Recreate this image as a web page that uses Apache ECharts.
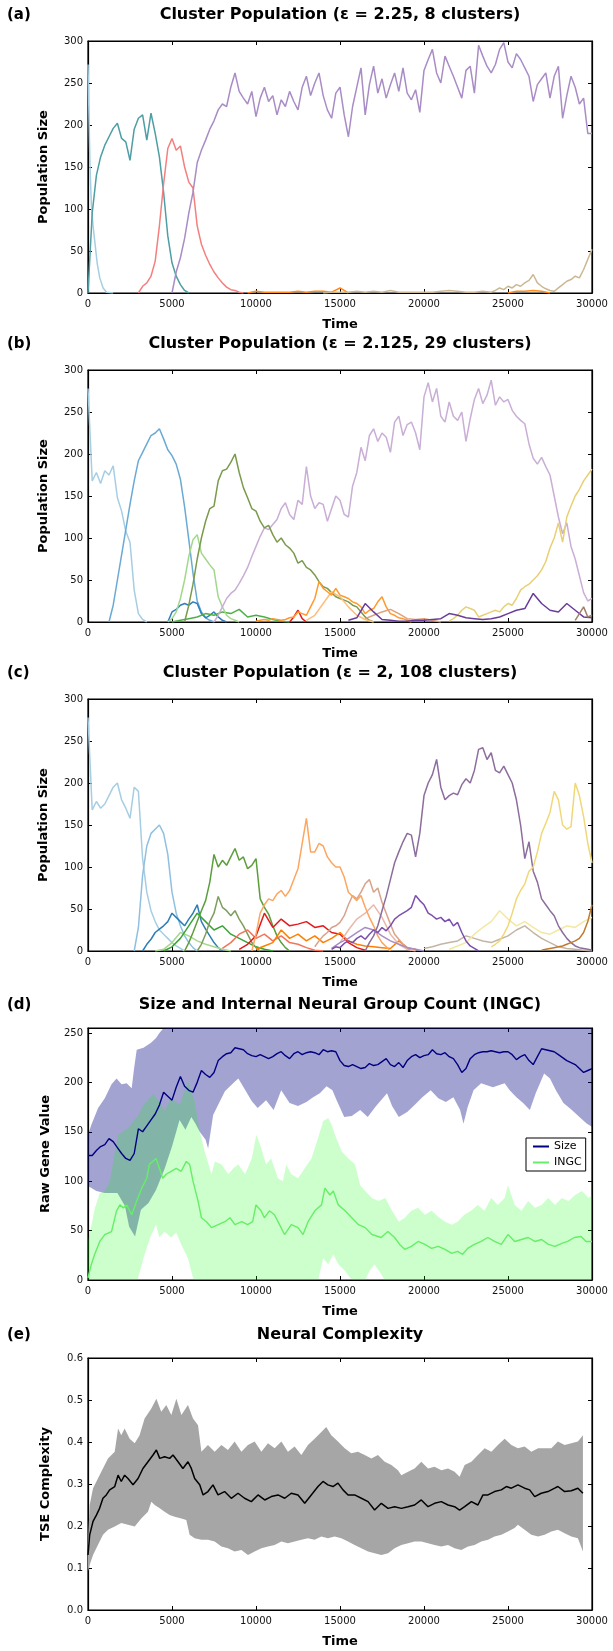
<!DOCTYPE html>
<html>
<head>
<meta charset="utf-8">
<script src="https://cdn.jsdelivr.net/npm/echarts@6/dist/echarts.min.js"></script>
<style>
    html, body {margin: 0; padding: 0; background: #fff;}
    #main {width: 613px; height: 1651px;}
</style>
</head>
<body>
<div id="main"></div>
<script>
// ---- shared axis values ----
var X_TICKS = [0, 5000, 10000, 15000, 20000, 25000, 30000];
var STEP = 250;

// ---- (a) eps = 2.25 ----
var A_LIGHTBLUE = [[0, 272], [60, 210], [120, 150], [200, 105], [300, 80], [400, 62], [550, 35], [700, 18], [900, 6], [1100, 1], [1500, 0]];
var A_TEAL = [0, 95, 140, 162, 176, 186, 196, 202, 184, 180, 158, 195, 208, 212, 182, 214, 190, 162, 120, 68, 36, 20, 10, 3, 0];
var A_RED = [0, 8, 12, 20, 38, 80, 130, 172, 184, 170, 175, 150, 132, 125, 80, 58, 45, 34, 25, 18, 12, 7, 4, 3, 1, 0];
var A_PURPLE = [0, 25, 42, 65, 95, 120, 155, 170, 182, 195,
    205, 218, 225, 222, 245, 262, 240, 232, 225, 240,
    210, 232, 245, 228, 235, 212, 230, 222, 240, 228,
    218, 245, 258, 235, 250, 262, 235, 218, 208, 238,
    245, 212, 186, 222, 245, 268, 212, 248, 270, 238,
    255, 232, 248, 262, 240, 268, 238, 230, 242, 215,
    265, 278, 290, 262, 250, 282, 270, 258, 245, 232,
    265, 270, 238, 295, 282, 270, 262, 272, 290, 298,
    275, 268, 285, 278, 268, 258, 228, 248, 255, 262,
    232, 258, 270, 208, 235, 258, 245, 225, 232, 190, 190];
var A_TAN_LOW = [0, 1, 1, 1, 2, 1, 2, 1, 3, 1, 1, 1, 1, 1, 2, 3, 2, 1, 1, 2];
var A_TAN = [1, 3, 6, 4, 8, 6, 10, 8, 12, 15, 22, 12, 8, 5, 3, 2, 6, 10, 14, 16, 20, 18, 28, 40, 52];
var A_ORANGE = [0, 2, 1, 1, 1, 1, 2, 1, 2, 2, 1, 6, 0];
var A_ORANGE_LATE = [0, 2, 2, 3, 2, 0];

// ---- (b) eps = 2.125 ----
var B_LIGHTBLUE = [278, 168, 178, 165, 180, 175, 186, 148, 132, 108, 95, 38, 10, 3, 0];
var B_BLUE = [0, 20, 50, 80, 110, 140, 168, 192, 202, 212, 222, 225, 230, 218, 205, 198, 188, 170, 137, 98, 58, 25, 12, 5, 2, 0];
var B_LTGREEN = [0, 4, 12, 28, 50, 78, 98, 104, 82, 75, 68, 62, 30, 18, 8, 4, 2, 0];
var B_OLIVE = [0, 20, 45, 75, 100, 120, 135, 138, 168, 180,
    182, 190, 200, 178, 160, 148, 135, 132, 120, 112,
    115, 104, 95, 100, 92, 88, 82, 70, 73, 65,
    62, 56, 48, 42, 40, 35, 30, 28, 26, 24,
    20, 18, 12, 6, 2, 0];
var B_LILAC = [0, 8, 18, 28, 34, 38, 46, 55, 65, 78,
    90, 102, 112, 110, 116, 122, 135, 142, 128, 122,
    145, 140, 185, 150, 135, 142, 140, 120, 135, 150,
    145, 128, 125, 162, 178, 208, 192, 222, 230, 215,
    225, 220, 202, 238, 245, 222, 235, 238, 225, 205,
    268, 285, 262, 278, 245, 238, 262, 245, 240, 250,
    215, 242, 265, 278, 260, 270, 288, 258, 268, 262,
    265, 252, 245, 240, 236, 212, 195, 188, 196, 185,
    175, 150, 125, 105, 118, 90, 75, 55, 35, 25, 28];
var B_ORANGE = [1, 2, 3, 2, 4, 3, 2, 3, 5, 6, 12, 10, 8, 18, 28, 48, 40, 36, 32, 40,
    32, 30, 28, 24, 22, 18, 10, 14, 16, 24, 30, 18, 10, 8, 5, 4, 2, 0];
var B_LTORANGE = [2, 8, 22, 36, 30, 18, 8, 3, 0];
var B_SALMON = [4, 8, 12, 15, 10, 4, 3, 4, 2, 0];
var B_DKPURPLE = [2, 5, 22, 12, 3, 2, 1, 1, 2, 2, 3, 4, 10, 8, 5, 4, 3, 4, 6, 10, 14, 16, 34, 22, 14, 12, 22, 14, 6, 5];
var B_YELLOW = [1, 4, 8, 14, 18, 16, 14, 6, 8, 10, 12, 14, 12, 18, 22, 20, 28, 38, 42, 45,
    50, 55, 62, 72, 88, 100, 118, 95, 125, 138, 150, 158, 168, 175, 182];
var B_GREEN = [0, 2, 4, 6, 10, 8, 12, 10, 15, 6, 8, 6, 3, 1, 0];
var B_MIDBLUE = [0, 12, 15, 20, 22, 20, 24, 22, 10, 5, 8, 12, 6, 2, 0];
var B_RED = [0, 6, 14, 4, 0];
var B_BROWN = [2, 10, 18, 6, 8];

// ---- (c) eps = 2 ----
var C_LIGHTBLUE = [278, 168, 178, 170, 175, 185, 195, 200, 180, 170, 158, 195, 190, 110, 70, 48, 35, 25, 20, 15, 10, 6, 3, 0];
var C_LBLUE2 = [0, 28, 90, 125, 140, 145, 150, 140, 115, 70, 45, 30, 18, 10, 4, 0];
var C_DKBLUE = [0, 8, 14, 22, 26, 30, 35, 45, 40, 35, 30, 38, 45, 55, 35, 26, 18, 10, 4, 0];
var C_GREEN = [0, 10, 22, 35, 48, 60, 82, 115, 100, 108, 102, 112, 122, 108, 112, 98, 102, 110, 62, 52, 44, 30, 18, 10, 4, 0];
var C_OLIVE = [0, 8, 20, 35, 45, 65, 52, 48, 42, 48, 38, 30, 20, 10, 4, 0];
var C_BRGREEN = [0, 5, 15, 30, 45, 35, 25, 30, 20, 15, 10, 5, 2, 0];
var C_LTGREEN = [0, 2, 10, 22, 18, 12, 8, 5, 2, 0];
var C_LTORANGE = [0, 20, 45, 55, 62, 60, 68, 72, 65, 72, 85, 98, 128, 158, 118, 118, 128, 125, 112, 105,
    100, 100, 88, 70, 65, 60, 66, 52, 40, 30, 18, 10, 5, 0];
var C_SALMON = [5, 12, 18, 22, 28, 30, 34, 42, 55, 66, 62, 70, 80, 85, 70, 75, 58, 45, 32, 20, 14, 8, 4, 0];
var C_PINK = [10, 25, 38, 45, 55, 40, 20, 8, 2, 0];
var C_MAUVE = [0, 10, 18, 30, 48, 65, 85, 105, 118, 130,
    140, 138, 112, 140, 185, 200, 210, 228, 195, 180,
    185, 188, 186, 198, 205, 200, 215, 240, 242, 228,
    236, 215, 212, 220, 210, 200, 180, 150, 110, 130,
    95, 82, 62, 55, 48, 42, 30, 22, 15, 10, 6, 4, 3, 2, 1];
var C_PURPLE = [2, 5, 4, 9, 12, 10, 15, 18, 14, 20, 25, 22, 28, 24, 30, 38, 42, 45, 48, 52,
    66, 60, 55, 45, 42, 38, 40, 35, 38, 30, 34, 22, 12, 6, 3, 0];
var C_PURPLE2 = [3, 10, 15, 22, 28, 25, 18, 12, 8, 4, 2, 0];
var C_YELLOW = [5, 8, 12, 20, 30, 45, 62, 72, 80, 95, 100, 118, 140, 152, 165, 190, 180, 150, 145, 148, 200, 185, 160, 128, 105];
var C_LTYELLOW = [2, 6, 10, 20, 28, 35, 48, 38, 30, 35, 28, 22, 20, 25, 30, 28, 35, 40];
var C_TAN = [3, 5, 8, 10, 12, 18, 15, 12, 10, 14, 18, 25, 30, 22, 15, 10, 5, 3, 2, 1, 0];
var C_BROWN = [1, 2, 3, 4, 5, 6, 8, 10, 12, 15, 22, 35, 55];
var C_RED = [2, 8, 18, 45, 28, 38, 30, 32, 35, 28, 30, 22, 20, 10, 4, 1];
var C_SALMONRED = [3, 10, 20, 25, 15, 20, 12, 18, 10, 8, 4, 1, 0];
var C_DKORANGE = [2, 6, 10, 25, 15, 20, 12, 18, 10, 15, 22, 12, 8, 6, 5, 4, 3, 12, 4, 2];

// ---- (d) size and INGC ----
var D_SIZE = [126, 126, 131, 135, 137, 143, 140, 134, 128, 123,
    121, 128, 153, 150, 156, 162, 168, 177, 190, 186,
    182, 195, 206, 196, 192, 190, 200, 212, 208, 205,
    210, 222, 226, 229, 230, 235, 234, 233, 229, 227,
    226, 228, 226, 224, 226, 229, 231, 227, 224, 229,
    231, 228, 230, 231, 230, 228, 233, 231, 232, 231,
    222, 217, 216, 218, 216, 214, 215, 219, 217, 218,
    221, 224, 218, 216, 220, 215, 222, 226, 228, 225,
    227, 228, 233, 229, 228, 230, 226, 224, 218, 210,
    214, 224, 228, 230, 231, 231, 232, 231, 230, 231,
    231, 228, 223, 226, 228, 222, 218, 226, 234, 233,
    232, 231, 228, 225, 222, 220, 218, 214, 210, 212, 214];
var D_SIZE_UP = [[0, 147], [200, 157], [600, 174], [1000, 184], [1400, 198], [1700, 204], [2000, 198], [2300, 199],
    [2600, 194], [2750, 215], [2900, 233], [3300, 235], [3750, 240], [4050, 245], [4250, 250], [4450, 254],
    [4700, 262], [30000, 262]];
var D_SIZE_LO = [[0, 95], [500, 90], [1000, 88], [1750, 88], [2200, 75], [2450, 54], [2800, 44], [3150, 71],
    [3600, 78], [4050, 91], [4550, 112], [5000, 135], [5450, 162], [5800, 152], [6150, 165], [6400, 158],
    [6650, 150], [7000, 142], [7150, 133], [7450, 167], [7800, 179], [8150, 191], [8700, 200], [8950, 204],
    [9400, 191], [9750, 181], [10100, 174], [10600, 182], [11050, 172], [11500, 192], [12000, 179], [12500, 176],
    [13000, 180], [13400, 185], [13800, 189], [14200, 196], [14550, 192], [14800, 182], [15250, 165],
    [15700, 166], [16200, 172], [16650, 165], [17100, 175], [17800, 189], [18100, 176], [18500, 165],
    [19000, 170], [19500, 178], [19900, 185], [20400, 192], [20850, 184], [21300, 180], [21750, 185],
    [22150, 172], [22350, 158], [22600, 175], [22950, 192], [23400, 199], [24100, 195], [24800, 199],
    [25100, 192], [25500, 185], [25900, 179], [26300, 172], [26650, 189], [27150, 209], [27500, 204],
    [27850, 192], [28300, 179], [28800, 172], [29250, 165], [29700, 158], [30000, 155]];
var D_INGC = [[0, 2], [200, 16], [400, 26], [700, 39], [1000, 46], [1400, 49], [1700, 70], [1900, 76], [2100, 73],
    [2300, 76], [2600, 66], [2900, 80], [3200, 93], [3500, 103], [3650, 117], [3850, 120], [4050, 123], [4250, 113],
    [4450, 103], [4650, 107], [4950, 110], [5250, 113], [5550, 110], [5850, 120], [6050, 117], [6250, 100], [6550, 80],
    [6750, 63], [7050, 59], [7350, 53], [7750, 56], [8150, 59], [8450, 63], [8750, 56], [9150, 59], [9500, 56],
    [9800, 59], [10000, 76], [10300, 70], [10500, 63], [10800, 70], [11100, 66], [11400, 56], [11700, 46],
    [12100, 56], [12500, 53], [12800, 46], [13100, 59], [13500, 70], [13900, 76], [14100, 93], [14400, 86],
    [14600, 90], [14900, 76], [15300, 70], [15700, 63], [16100, 56], [16500, 53], [16900, 46], [17450, 43],
    [17850, 49], [18250, 43], [18550, 36], [18850, 31], [19250, 34], [19650, 39], [20050, 36], [20450, 32],
    [20850, 34], [21250, 31], [21650, 27], [22000, 29], [22300, 26], [22600, 32], [23000, 36], [23400, 39],
    [23800, 43], [24200, 39], [24600, 36], [25000, 46], [25400, 39], [25800, 41], [26200, 43], [26600, 39],
    [27000, 41], [27400, 36], [27800, 34], [28200, 37], [28550, 39], [28950, 43], [29350, 44], [29650, 39], [30000, 39]];
var D_INGC_UP = [[0, 40], [200, 55], [400, 72], [700, 88], [1000, 90], [1300, 100], [1600, 130], [1800, 147],
    [2400, 154], [3000, 167], [3300, 177], [3850, 188], [4250, 181], [4550, 171], [4950, 184], [5450, 177],
    [5750, 191], [5950, 201], [6350, 181], [6650, 150], [6950, 130], [7350, 107], [7550, 120], [7950, 117],
    [8350, 107], [8650, 113], [8950, 117], [9350, 107], [9750, 123], [10020, 147], [10300, 134], [10600, 117],
    [10900, 123], [11300, 103], [11600, 100], [11800, 117], [12100, 107], [12500, 103], [12900, 113], [13300, 123],
    [13700, 144], [14000, 161], [14300, 164], [14500, 157], [14700, 147], [15100, 130], [15500, 123], [15900, 117],
    [16200, 96], [16500, 90], [16900, 83], [17300, 80], [17700, 83], [18100, 70], [18500, 59], [18850, 63],
    [19250, 70], [19650, 73], [20050, 66], [20450, 70], [20850, 64], [21250, 59], [21650, 56], [22000, 59],
    [22400, 66], [22800, 70], [23200, 76], [23600, 70], [24000, 83], [24400, 76], [24800, 83], [25000, 96],
    [25400, 76], [25800, 70], [26200, 80], [26600, 73], [27000, 76], [27400, 83], [27800, 76], [28200, 83],
    [28600, 80], [29000, 86], [29400, 90], [29800, 83], [30000, 86]];
var D_INGC_LO = [[0, 0], [2950, 0], [3300, 22], [3700, 43], [4050, 56], [4250, 43], [4550, 49], [4950, 43],
    [5250, 48], [5550, 36], [5950, 22], [6250, 2], [6350, 0], [13700, 0], [14000, 22], [14300, 16], [14600, 26],
    [14900, 16], [15300, 9], [15700, 0], [16500, 0], [16750, 9], [17050, 16], [17450, 6], [17650, 0], [30000, 0]];

// ---- (e) TSE complexity ----
var E_TSE = [[0, 0.131], [100, 0.179], [300, 0.211], [500, 0.226], [690, 0.242], [890, 0.266], [1090, 0.274],
    [1290, 0.286], [1590, 0.294], [1790, 0.321], [1980, 0.306], [2180, 0.321], [2380, 0.313], [2680, 0.298],
    [2980, 0.313], [3270, 0.337], [3570, 0.353], [3870, 0.369], [4070, 0.381], [4270, 0.361], [4560, 0.365],
    [4860, 0.361], [5060, 0.369], [5360, 0.353], [5650, 0.337], [5950, 0.353], [6150, 0.337], [6350, 0.313],
    [6650, 0.298], [6850, 0.274], [7140, 0.282], [7440, 0.298], [7740, 0.274], [8130, 0.282], [8530, 0.266],
    [8930, 0.278], [9320, 0.266], [9720, 0.258], [10120, 0.274], [10520, 0.262], [10910, 0.270], [11310, 0.274],
    [11710, 0.266], [12100, 0.278], [12500, 0.274], [12900, 0.254], [13290, 0.274], [13690, 0.294], [13990, 0.306],
    [14280, 0.298], [14580, 0.294], [14880, 0.302], [15180, 0.286], [15480, 0.274], [15870, 0.274], [16270, 0.266],
    [16670, 0.258], [17060, 0.238], [17460, 0.254], [17860, 0.242], [18250, 0.246], [18650, 0.242], [19050, 0.246],
    [19440, 0.250], [19840, 0.262], [20240, 0.246], [20630, 0.254], [21030, 0.258], [21430, 0.250], [21820, 0.246],
    [22120, 0.238], [22420, 0.246], [22820, 0.258], [23210, 0.250], [23510, 0.274], [23810, 0.274], [24200, 0.282],
    [24600, 0.286], [24900, 0.294], [25200, 0.290], [25590, 0.298], [25990, 0.290], [26290, 0.286], [26590, 0.270],
    [26980, 0.278], [27380, 0.282], [27780, 0.290], [27970, 0.294], [28370, 0.282], [28770, 0.284], [29160, 0.290],
    [29460, 0.278]];
var E_UP = [[0, 0.163], [100, 0.250], [300, 0.290], [590, 0.313], [890, 0.337], [1190, 0.361], [1590, 0.377],
    [1790, 0.432], [1980, 0.416], [2180, 0.432], [2480, 0.408], [2780, 0.397], [3070, 0.416], [3370, 0.456],
    [3770, 0.480], [4070, 0.503], [4360, 0.472], [4660, 0.488], [4960, 0.464], [5260, 0.503], [5560, 0.464],
    [5950, 0.488], [6250, 0.456], [6550, 0.440], [6750, 0.377], [7140, 0.393], [7540, 0.377], [7940, 0.393],
    [8330, 0.381], [8730, 0.401], [9130, 0.377], [9520, 0.393], [9920, 0.401], [10320, 0.377], [10710, 0.397],
    [11110, 0.385], [11510, 0.401], [11900, 0.377], [12300, 0.389], [12700, 0.369], [13090, 0.393], [13490, 0.408],
    [13890, 0.424], [14180, 0.436], [14480, 0.416], [14880, 0.401], [15280, 0.385], [15670, 0.373], [16070, 0.377],
    [16470, 0.369], [16870, 0.361], [17260, 0.369], [17660, 0.353], [18060, 0.345], [18450, 0.333], [18650, 0.321],
    [19050, 0.329], [19440, 0.337], [19840, 0.353], [20240, 0.337], [20630, 0.341], [21030, 0.333], [21430, 0.337],
    [21820, 0.329], [22120, 0.317], [22420, 0.345], [22820, 0.353], [23210, 0.369], [23610, 0.385], [24010, 0.377],
    [24400, 0.393], [24800, 0.408], [25200, 0.393], [25590, 0.385], [25990, 0.389], [26390, 0.377], [26790, 0.385],
    [27180, 0.385], [27580, 0.385], [27970, 0.401], [28370, 0.393], [28770, 0.397], [29160, 0.401], [29460, 0.416]];
var E_LO = [[0, 0.092], [100, 0.108], [300, 0.131], [590, 0.155], [890, 0.179], [1190, 0.191], [1590, 0.199],
    [1980, 0.207], [2380, 0.203], [2780, 0.199], [3170, 0.218], [3570, 0.234], [3770, 0.258], [3970, 0.250],
    [4270, 0.242], [4560, 0.234], [4860, 0.226], [5160, 0.222], [5560, 0.218], [5850, 0.214], [6050, 0.179],
    [6350, 0.171], [6750, 0.167], [7140, 0.167], [7540, 0.163], [7940, 0.151], [8330, 0.147], [8730, 0.139],
    [9130, 0.143], [9520, 0.131], [9920, 0.139], [10320, 0.147], [10710, 0.151], [11110, 0.155], [11510, 0.163],
    [11900, 0.159], [12300, 0.163], [12700, 0.167], [13090, 0.171], [13490, 0.167], [13890, 0.175], [14280, 0.171],
    [14680, 0.175], [15080, 0.171], [15480, 0.163], [15870, 0.155], [16270, 0.147], [16670, 0.139], [17060, 0.135],
    [17460, 0.131], [17860, 0.135], [18250, 0.147], [18650, 0.155], [19050, 0.159], [19440, 0.163], [19840, 0.163],
    [20240, 0.159], [20630, 0.155], [21030, 0.151], [21430, 0.155], [21820, 0.147], [22220, 0.143], [22620, 0.151],
    [23010, 0.155], [23410, 0.163], [23810, 0.167], [24200, 0.175], [24600, 0.179], [25000, 0.187], [25390, 0.195],
    [25590, 0.203], [25990, 0.191], [26390, 0.179], [26790, 0.175], [27180, 0.179], [27580, 0.187], [27970, 0.191],
    [28370, 0.183], [28770, 0.175], [29160, 0.171], [29460, 0.139]];

// ---- layout ----
var FONT = '"DejaVu Sans", sans-serif';
var GRID_LEFT = 88, GRID_WIDTH = 504, GRID_HEIGHT = 252;
var panels = [
    {top: 41, yMax: 300, yInt: 50, yName: 'Population Size', gap: 38, tag: '(a)', titleY: 15,
        title: 'Cluster Population (\u03b5 = 2.25, 8 clusters)'},
    {top: 370, yMax: 300, yInt: 50, yName: 'Population Size', gap: 38, tag: '(b)', titleY: 344,
        title: 'Cluster Population (\u03b5 = 2.125, 29 clusters)'},
    {top: 699, yMax: 300, yInt: 50, yName: 'Population Size', gap: 38, tag: '(c)', titleY: 673,
        title: 'Cluster Population (\u03b5 = 2, 108 clusters)'},
    {top: 1028, yMax: 255, yInt: 50, yName: 'Raw Gene Value', gap: 36, tag: '(d)', titleY: 1005,
        title: 'Size and Internal Neural Group Count (INGC)'},
    {top: 1358, yMax: 0.6, yInt: 0.1, yName: 'TSE Complexity', gap: 36, tag: '(e)', titleY: 1335,
        title: 'Neural Complexity', dec: 1}
];

function seq(start, step, vals) {
    return vals.map(function (v, i) { return [start + i * step, v]; });
}

function line(p, data, color, name, width) {
    return {
        type: 'line', name: name, xAxisIndex: p * 2, yAxisIndex: p * 2, data: data,
        symbol: 'none', showSymbol: false, silent: true, animation: false, z: 3,
        lineStyle: {color: color, width: width || 1.5}, itemStyle: {color: color}
    };
}

// filled band between two curves, drawn through the axis scales
function band(p, upper, lower, color, yMax) {
    return {
        type: 'custom', xAxisIndex: p * 2, yAxisIndex: p * 2, data: [[0, 0]],
        silent: true, animation: false, z: 1,
        renderItem: function (params, api) {
            var pts = [];
            upper.forEach(function (d) { pts.push(api.coord([d[0], Math.min(d[1], yMax)])); });
            for (var k = lower.length - 1; k >= 0; k--) {
                pts.push(api.coord([lower[k][0], Math.min(lower[k][1], yMax)]));
            }
            return {type: 'polygon', shape: {points: pts}, style: {fill: color}};
        }
    };
}

var grids = [], xAxes = [], yAxes = [], graphics = [];
panels.forEach(function (pn, i) {
    grids.push({left: GRID_LEFT, top: pn.top, width: GRID_WIDTH, height: GRID_HEIGHT,
        show: true, borderColor: '#000', borderWidth: 1.2, backgroundColor: 'transparent'});
    var tick = {inside: true, length: 4, lineStyle: {color: '#000', width: 1}};
    var axLine = {show: true, onZero: false, lineStyle: {color: '#000', width: 1.2}};
    xAxes.push({gridIndex: i, type: 'value', min: X_TICKS[0], max: X_TICKS[X_TICKS.length - 1], interval: 5000,
        position: 'bottom', axisLine: axLine, axisTick: tick, splitLine: {show: false},
        axisLabel: {fontSize: 10, color: '#111', margin: 6, fontFamily: FONT,
            formatter: function (v) { return String(v); }},
        name: 'Time', nameLocation: 'middle', nameGap: 25,
        nameTextStyle: {fontSize: 13, fontWeight: 'bold', color: '#000', fontFamily: FONT}});
    xAxes.push({gridIndex: i, type: 'value', min: 0, max: 30000, interval: 5000, position: 'top',
        axisLine: axLine, axisTick: tick, axisLabel: {show: false}, splitLine: {show: false}});
    yAxes.push({gridIndex: i, type: 'value', min: 0, max: pn.yMax, interval: pn.yInt, position: 'left',
        axisLine: axLine, axisTick: tick, splitLine: {show: false},
        axisLabel: {fontSize: 10, color: '#111', margin: 5, fontFamily: FONT,
            formatter: function (v) { return pn.dec ? v.toFixed(pn.dec) : String(v); }},
        name: pn.yName, nameLocation: 'middle', nameGap: pn.gap,
        nameTextStyle: {fontSize: 13, fontWeight: 'bold', color: '#000', fontFamily: FONT}});
    yAxes.push({gridIndex: i, type: 'value', min: 0, max: pn.yMax, interval: pn.yInt, position: 'right',
        axisLine: axLine, axisTick: tick, axisLabel: {show: false}, splitLine: {show: false}});
    graphics.push({type: 'text', x: GRID_LEFT + GRID_WIDTH / 2, y: pn.titleY,
        style: {text: pn.title, font: 'bold 16px ' + FONT, fill: '#000', align: 'center', verticalAlign: 'middle'}});
    graphics.push({type: 'text', x: 7, y: pn.titleY,
        style: {text: pn.tag, font: 'bold 15px ' + FONT, fill: '#000', align: 'left', verticalAlign: 'middle'}});
});

var series = [
    // (a)
    line(0, A_LIGHTBLUE, '#a6cee3'),
    line(0, seq(0, STEP, A_TEAL), '#4e9ea3'),
    line(0, seq(3000, STEP, A_RED), '#f47f7f'),
    line(0, seq(9500, 500, A_ORANGE), '#ff8c1a'),
    line(0, seq(25000, 500, A_ORANGE_LATE), '#ff8c1a'),
    line(0, seq(14000, 500, A_TAN_LOW).concat(seq(24000, STEP, A_TAN)), '#cbb893'),
    line(0, seq(5000, STEP, A_PURPLE), '#a98cc6'),
    // (b)
    line(1, seq(0, STEP, B_LIGHTBLUE), '#a6cee3'),
    line(1, seq(1250, STEP, B_BLUE), '#6aaad4'),
    line(1, seq(4750, STEP, B_MIDBLUE), '#2f7fbf'),
    line(1, seq(5000, 500, B_GREEN), '#4daf4a'),
    line(1, seq(4750, STEP, B_LTGREEN), '#a3d88c'),
    line(1, seq(7500, STEP, B_LILAC), '#c9aed6'),
    line(1, seq(5750, STEP, B_OLIVE), '#7a9a4c'),
    line(1, seq(12000, STEP, B_RED), '#e31a1c'),
    line(1, seq(13000, 500, B_LTORANGE), '#fdbf7a'),
    line(1, seq(10000, STEP, B_ORANGE), '#ff9a2e'),
    line(1, seq(16500, 500, B_SALMON), '#dfa07a'),
    line(1, seq(21500, STEP, B_YELLOW), '#e9cf74'),
    line(1, seq(15500, 500, B_DKPURPLE), '#6a3d9a'),
    line(1, seq(29000, STEP, B_BROWN), '#a0806a'),
    // (c)
    line(2, seq(0, STEP, C_LIGHTBLUE), '#a6cee3'),
    line(2, seq(2750, STEP, C_LBLUE2), '#8fc0df'),
    line(2, seq(3250, STEP, C_DKBLUE), '#2e7eb5'),
    line(2, seq(4000, 500, C_LTGREEN), '#a6d98f'),
    line(2, seq(4500, 500, C_BRGREEN), '#3aa335'),
    line(2, seq(6500, STEP, C_OLIVE), '#7c9e5e'),
    line(2, seq(5750, STEP, C_GREEN), '#5b9e3c'),
    line(2, seq(8000, 500, C_SALMONRED), '#f5735a'),
    line(2, seq(9000, 500, C_RED), '#e31a1c'),
    line(2, seq(10000, 500, C_DKORANGE), '#ff7f00'),
    line(2, seq(15000, 500, C_PINK), '#eab8a8'),
    line(2, seq(13500, STEP, C_SALMON), '#d9a28a'),
    line(2, seq(9750, STEP, C_LTORANGE), '#fca660'),
    line(2, seq(14500, 500, C_PURPLE2), '#a88cc8'),
    line(2, seq(20000, 500, C_TAN), '#c4b4a4'),
    line(2, seq(21500, 500, C_LTYELLOW), '#f4e8a0'),
    line(2, seq(14500, STEP, C_PURPLE), '#7a4fae'),
    line(2, seq(16500, STEP, C_MAUVE), '#8c6d9d'),
    line(2, seq(24000, STEP, C_YELLOW), '#f0d878'),
    line(2, seq(27000, STEP, C_BROWN), '#c07a30'),
    // (d)
    band(3, D_SIZE_UP, D_SIZE_LO, 'rgba(0,0,128,0.36)', 255),
    band(3, D_INGC_UP, D_INGC_LO, 'rgba(0,255,0,0.2)', 255),
    line(3, seq(0, STEP, D_SIZE), '#000080', 'Size', 1.4),
    line(3, D_INGC, '#66ee66', 'INGC', 1.4),
    // (e)
    band(4, E_UP, E_LO, '#a6a6a6', 0.6),
    line(4, E_TSE, '#000000', null, 1.5)
];

var chart = echarts.init(document.getElementById('main'), null, {renderer: 'canvas'});
chart.setOption({
    backgroundColor: '#fff',
    animation: false,
    grid: grids,
    xAxis: xAxes,
    yAxis: yAxes,
    series: series,
    graphic: graphics,
    legend: {
        data: ['Size', 'INGC'], orient: 'vertical', left: 526, top: 1138,
        icon: 'rect', itemWidth: 16, itemHeight: 2, itemGap: 5, itemTextGap: 10,
        padding: [3, 4, 3, 7], borderColor: '#000', borderWidth: 1, borderRadius: 0,
        backgroundColor: '#fff', selectedMode: false,
        textStyle: {fontSize: 11, color: '#000', fontFamily: FONT}
    }
});
</script>
</body>
</html>
